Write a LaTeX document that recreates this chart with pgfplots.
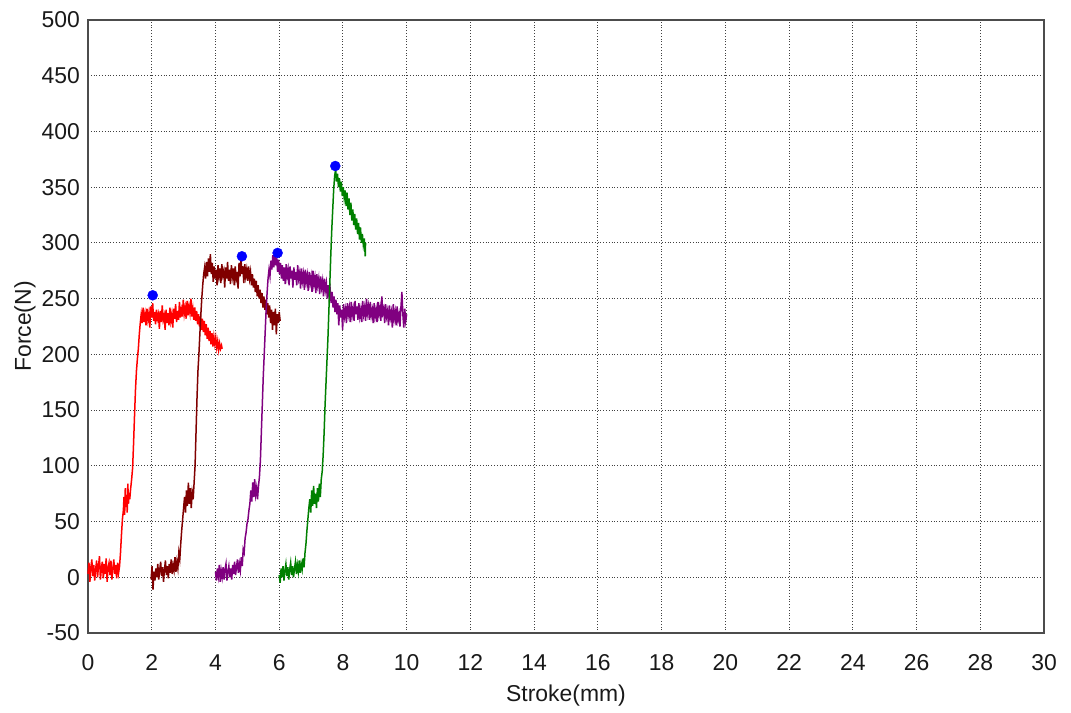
\documentclass[border=0pt]{standalone}
\usepackage{pgfplots}
\pgfplotsset{compat=1.18}
\usepackage{pgfplotstable}
\usepackage{fontspec}
\setmainfont{Liberation Sans}
\definecolor{cred}{RGB}{255,0,0}
\definecolor{cmaroon}{RGB}{128,0,0}
\definecolor{cpurple}{RGB}{128,0,128}
\definecolor{cgreen}{RGB}{0,128,0}
\definecolor{cblue}{RGB}{0,0,255}
\pgfplotstableread{
x y
0.00 3
0.03 13
0.06 -4
0.09 9
0.12 16
0.15 1
0.18 11
0.21 -3
0.24 7
0.27 15
0.30 0
0.33 10
0.36 19
0.39 -2
0.42 8
0.45 14
0.48 -1
0.51 12
0.54 3
0.57 17
0.60 -4
0.63 9
0.66 13
0.69 2
0.72 15
0.75 -2
0.78 8
0.81 16
0.84 3
0.87 11
0.90 -1
0.93 13
0.96 4
0.99 10
1.02 22
1.05 38
1.08 52
1.11 60
1.13 72
1.15 56
1.17 80
1.19 63
1.21 74
1.23 58
1.25 84
1.27 66
1.29 76
1.31 70
1.34 80
1.37 88
1.40 98
1.43 120
1.46 145
1.49 168
1.52 185
1.55 196
1.58 205
1.61 218
1.64 228
1.67 236
1.70 228
1.73 242
1.76 229
1.79 236
1.82 226
1.85 241
1.88 231
1.91 237
1.94 224
1.97 243
2.00 233
2.03 246
2.06 230
2.09 238
2.12 227
2.15 240
2.18 232
2.21 236
2.24 223
2.27 239
2.30 229
2.33 244
2.36 231
2.39 235
2.42 222
2.45 240
2.48 228
2.51 237
2.54 226
2.57 242
2.60 230
2.63 236
2.66 224
2.69 241
2.72 232
2.75 245
2.78 229
2.81 239
2.84 231
2.87 247
2.90 233
2.93 240
2.96 234
2.99 249
3.02 236
3.05 242
3.08 232
3.11 248
3.14 235
3.17 243
3.20 237
3.23 250
3.26 234
3.29 241
3.32 231
3.35 242
3.38 230
3.41 239
3.44 227
3.47 236
3.50 225
3.53 234
3.56 222
3.59 232
3.62 220
3.65 230
3.68 217
3.71 227
3.74 214
3.77 224
3.80 212
3.83 221
3.86 209
3.89 219
3.92 207
3.95 216
3.98 209
4.01 215
4.04 206
4.07 212
4.10 204
4.13 210
4.16 205
4.19 208
4.21 205
}\redtab
\pgfplotstableread{
x y
1.98 -2
2.01 10
2.04 -11
2.07 5
2.10 -3
2.13 8
2.16 0
2.19 12
2.22 -2
2.25 6
2.28 14
2.31 1
2.34 9
2.37 -4
2.40 7
2.43 15
2.46 2
2.49 10
2.52 -1
2.55 12
2.58 4
2.61 16
2.64 3
2.67 11
2.70 6
2.73 18
2.76 5
2.79 14
2.82 8
2.85 22
2.88 16
2.91 30
2.94 42
2.97 52
3.00 62
3.03 72
3.06 58
3.09 78
3.12 64
3.15 85
3.18 66
3.21 80
3.24 62
3.27 76
3.30 70
3.33 85
3.36 100
3.39 130
3.42 160
3.45 185
3.48 200
3.51 218
3.54 235
3.57 250
3.60 262
3.63 272
3.66 278
3.69 268
3.72 283
3.75 270
3.78 286
3.81 274
3.84 290
3.87 272
3.90 282
3.93 265
3.96 279
3.99 268
4.02 276
4.05 262
4.08 280
4.11 270
4.14 277
4.17 264
4.20 281
4.23 271
4.26 275
4.29 260
4.32 278
4.35 268
4.38 283
4.41 266
4.44 276
4.47 263
4.50 280
4.53 270
4.56 277
4.59 262
4.62 279
4.65 268
4.68 274
4.71 259
4.74 282
4.77 270
4.80 286
4.83 272
4.86 279
4.89 264
4.92 281
4.95 270
4.98 276
5.01 266
5.04 279
5.07 268
5.10 274
5.13 262
5.16 272
5.19 260
5.22 268
5.25 256
5.28 266
5.31 252
5.34 262
5.37 250
5.40 258
5.43 246
5.46 255
5.49 242
5.52 252
5.55 240
5.58 249
5.61 236
5.64 246
5.67 233
5.70 244
5.73 228
5.76 240
5.79 222
5.82 238
5.85 226
5.88 241
5.91 218
5.94 236
5.97 228
6.00 238
6.03 230
}\maroontab
\pgfplotstableread{
x y
4.00 5
4.03 -3
4.06 8
4.09 1
4.12 11
4.15 -4
4.18 6
4.21 0
4.24 9
4.27 -2
4.30 7
4.33 12
4.36 -3
4.39 5
4.42 10
4.45 0
4.48 8
4.51 -2
4.54 11
4.57 3
4.60 14
4.63 2
4.66 9
4.69 16
4.72 4
4.75 12
4.78 6
4.81 18
4.84 10
4.87 25
4.90 22
4.93 35
4.96 40
4.99 48
5.02 52
5.05 60
5.08 66
5.11 78
5.14 68
5.17 85
5.20 72
5.23 88
5.26 74
5.29 80
5.32 70
5.35 82
5.38 90
5.41 105
5.44 130
5.47 155
5.50 180
5.53 200
5.56 220
5.59 240
5.62 255
5.65 268
5.68 276
5.71 270
5.74 284
5.77 276
5.80 289
5.83 278
5.86 292
5.89 280
5.92 287
5.95 274
5.98 285
6.01 272
6.04 282
6.07 268
6.10 280
6.13 266
6.16 278
6.19 263
6.22 281
6.25 270
6.28 276
6.31 262
6.34 279
6.37 268
6.40 275
6.43 260
6.46 278
6.49 267
6.52 274
6.55 262
6.58 280
6.61 268
6.64 273
6.67 259
6.70 277
6.73 266
6.76 272
6.79 258
6.82 276
6.85 265
6.88 271
6.91 257
6.94 274
6.97 264
7.00 270
7.03 256
7.06 275
7.09 263
7.12 269
7.15 255
7.18 272
7.21 262
7.24 268
7.27 254
7.30 270
7.33 260
7.36 266
7.39 252
7.42 268
7.45 258
7.48 264
7.51 250
7.54 262
7.57 252
7.60 258
7.63 246
7.66 256
7.69 242
7.72 252
7.75 238
7.78 249
7.81 236
7.84 246
7.87 226
7.90 244
7.93 233
7.96 240
7.99 222
8.02 245
8.05 234
8.08 240
8.11 228
8.14 246
8.17 236
8.20 242
8.23 229
8.26 247
8.29 235
8.32 241
8.35 230
8.38 248
8.41 236
8.44 243
8.47 231
8.50 246
8.53 234
8.56 240
8.59 229
8.62 248
8.65 236
8.68 242
8.71 230
8.74 250
8.77 237
8.80 243
8.83 231
8.86 247
8.89 235
8.92 240
8.95 228
8.98 246
9.01 234
9.04 240
9.07 229
9.10 247
9.13 236
9.16 242
9.19 230
9.22 252
9.25 237
9.28 241
9.31 228
9.34 245
9.37 234
9.40 239
9.43 226
9.46 244
9.49 233
9.52 238
9.55 224
9.58 245
9.61 232
9.64 238
9.67 226
9.70 243
9.73 231
9.76 236
9.79 225
9.82 242
9.85 256
9.88 236
9.91 224
9.94 241
9.97 230
10.00 236
}\purpletab
\pgfplotstableread{
x y
6.00 2
6.03 -5
6.06 8
6.09 0
6.12 10
6.15 -3
6.18 6
6.21 12
6.24 1
6.27 9
6.30 -2
6.33 7
6.36 13
6.39 2
6.42 10
6.45 0
6.48 8
6.51 14
6.54 3
6.57 11
6.60 5
6.63 15
6.66 4
6.69 12
6.72 7
6.75 17
6.78 9
6.81 22
6.84 30
6.87 42
6.90 52
6.93 62
6.96 70
6.99 58
7.02 78
7.05 64
7.08 82
7.11 66
7.14 75
7.17 62
7.20 80
7.23 68
7.26 84
7.29 72
7.32 88
7.35 95
7.38 110
7.41 130
7.44 155
7.47 175
7.50 195
7.53 215
7.56 240
7.59 265
7.62 290
7.65 312
7.68 330
7.71 348
7.74 360
7.77 366
7.80 355
7.83 362
7.86 350
7.89 358
7.92 346
7.95 355
7.98 342
8.01 350
8.04 340
8.07 347
8.10 333
8.13 345
8.16 330
8.19 340
8.22 325
8.25 336
8.28 320
8.31 330
8.34 316
8.37 326
8.40 312
8.43 322
8.46 308
8.49 318
8.52 303
8.55 314
8.58 300
8.61 308
8.64 298
8.67 304
8.70 288
8.71 300
}\greentab
\begin{document}
\begin{tikzpicture}
\useasboundingbox (-88bp,-80bp) rectangle (983bp,633bp);
\begin{axis}[
  at={(0,0)}, anchor=south west,
  scale only axis, width=956bp, height=613bp,
  xmin=0, xmax=30, ymin=-50, ymax=500,
  xtick={0,2,...,30}, ytick={-50,0,...,500},
  major tick length=0pt,
  grid=major,
  grid style={line width=0.9bp, dash pattern=on 0.9bp off 1.9bp, black!75},
  axis line style={line width=1.6bp, black!70},
  tick label style={font=\fontsize{23}{27}\selectfont, text=black!90},
  label style={font=\fontsize{23}{27}\selectfont, text=black!90},
  /pgf/number format/assume math mode=true,
  yticklabel style={inner sep=0pt, xshift=-8bp},
  xticklabel style={anchor=base, yshift=-37bp},
  xlabel={Stroke(mm)}, ylabel={Force(N)},
  xlabel style={at={(axis description cs:0.5,0)}, anchor=base, yshift=-68bp},
  ylabel style={at={(axis description cs:-0.0659,0.5)}, anchor=center},
  clip=false,
]
\addplot[cred, line width=1.5bp, no markers] table {\redtab};
\addplot[cmaroon, line width=1.5bp, no markers] table {\maroontab};
\addplot[cpurple, line width=1.5bp, no markers] table {\purpletab};
\addplot[cgreen, line width=1.5bp, no markers] table {\greentab};
\addplot[only marks, mark=*, mark size=5bp, cblue, mark options={draw=cblue, fill=cblue}] coordinates {(2.03,253) (4.83,288) (5.95,291) (7.76,369)};
\end{axis}
\end{tikzpicture}
\end{document}
